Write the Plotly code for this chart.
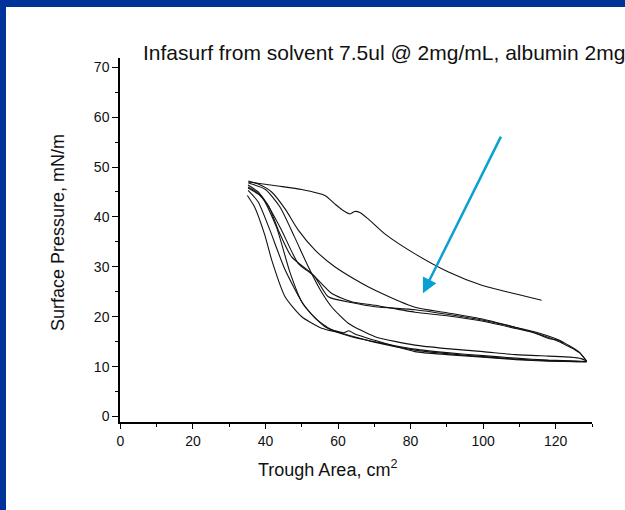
import plotly.graph_objects as go

# ---- data (trough area cm^2, surface pressure mN/m) ----
c1_x = [116.1, 108.8, 99.6, 90.3, 81.2, 72.9, 68.3, 66.0, 64.6, 63.3, 61.0, 59.1, 56.4, 50.0, 43.4, 35.2]
c1_y = [23.3, 24.6, 26.3, 29.0, 32.6, 36.6, 39.6, 40.9, 41.1, 40.6, 41.5, 42.6, 44.3, 45.5, 46.2, 47.0]

e1_x = [35.3, 40.0, 44.0, 48.0, 51.8, 55.0, 58.2, 62.8, 70.2, 81.2, 90.0, 100.0, 109.0, 118.0, 124.0, 127.0, 128.5]
e1_y = [46.8, 45.5, 42.0, 36.0, 30.0, 25.5, 22.0, 18.7, 16.0, 14.3, 13.6, 13.0, 12.4, 12.1, 11.9, 11.6, 11.1]

m1_x = [128.5, 126.5, 121.0, 114.6, 108.8, 100.0, 90.0, 81.2, 70.2, 66.5, 59.1, 53.6, 49.0, 45.5, 41.7, 38.0, 35.3]
m1_y = [11.1, 12.9, 15.3, 16.9, 17.9, 19.5, 20.8, 21.9, 25.3, 26.7, 30.0, 33.4, 37.4, 41.5, 45.0, 46.6, 47.2]

e2_x = [35.0, 37.0, 39.8, 41.7, 45.4, 50.0, 55.5, 61.0, 70.0, 81.2, 90.0, 100.0, 109.0, 118.0, 126.0, 128.5]
e2_y = [44.3, 42.0, 36.4, 31.4, 24.0, 20.0, 17.7, 16.7, 14.9, 13.3, 12.6, 12.0, 11.5, 11.2, 11.0, 11.0]

m2_x = [128.5, 126.5, 121.0, 115.0, 108.0, 100.0, 90.0, 81.2, 70.2, 63.7, 58.2, 52.7, 47.2, 43.5, 41.0, 38.0, 35.2]
m2_y = [11.1, 12.8, 15.0, 16.6, 17.8, 19.1, 20.2, 20.9, 22.3, 23.0, 24.7, 28.7, 32.0, 37.4, 42.0, 45.0, 46.4]

e3_x = [35.2, 38.0, 41.2, 45.4, 50.9, 56.4, 63.7, 70.2, 81.2, 90.0, 100.0, 109.0, 118.0, 126.0, 128.5]
e3_y = [45.3, 43.0, 37.4, 29.4, 22.0, 18.0, 16.0, 15.0, 13.5, 12.8, 12.2, 11.7, 11.3, 11.1, 11.0]

m3_x = [122.0, 121.2, 118.2, 114.0, 108.0, 100.0, 90.0, 81.2, 70.2, 64.0, 57.3, 53.6, 49.0, 44.4, 40.5, 37.5, 35.2]
m3_y = [14.6, 15.2, 15.6, 16.8, 18.0, 19.3, 20.5, 21.4, 22.0, 22.8, 24.0, 28.0, 30.7, 37.4, 42.5, 45.0, 46.0]

e4_x = [35.2, 39.0, 43.0, 46.7, 50.0, 54.0, 58.0, 61.5, 63.0, 64.5, 70.0, 81.2, 90.0, 100.0, 109.0, 118.0, 126.0, 128.5]
e4_y = [45.8, 44.0, 38.0, 29.0, 23.0, 19.5, 17.5, 16.8, 17.2, 16.6, 15.3, 13.0, 12.4, 11.9, 11.4, 11.1, 11.0, 11.0]

curves = [(c1_x, c1_y), (e1_x, e1_y), (m1_x, m1_y), (e2_x, e2_y),
          (m2_x, m2_y), (e3_x, e3_y), (m3_x, m3_y), (e4_x, e4_y)]

x_ticks = [0, 20, 40, 60, 80, 100, 120]
y_ticks = [0, 10, 20, 30, 40, 50, 60, 70]

arrow_tail = (105.1, 56.4)
arrow_tip = (83.4, 24.7)

title_text = "Infasurf from solvent 7.5ul @ 2mg/mL, albumin 2mg"
x_title = "Trough Area, cm<sup>2</sup>"
y_title = "Surface Pressure, mN/m"

# ---- figure ----
W, H = 625, 510
L, R, T, B = 120, 33, 58, 88
pw, ph = W - L - R, H - T - B

def px(xp):
    return (xp - L) / pw

def py(yp):
    return 1 - (yp - T) / ph

fig = go.Figure()
for cx, cy in curves:
    fig.add_trace(go.Scatter(x=cx, y=cy, mode="lines",
                             line=dict(color="#111111", width=1.1, shape="spline", smoothing=0.6),
                             showlegend=False, hoverinfo="skip"))

font = "Liberation Sans, Arial, sans-serif"
axis_common = dict(showgrid=False, zeroline=False, showline=True, linecolor="black",
                   linewidth=1.5, ticks="outside", tickcolor="black", tickwidth=1.3,
                   tickfont=dict(family=font, size=14, color="#111111"))

fig.update_layout(
    width=W, height=H,
    margin=dict(l=L, r=R, t=T, b=B, pad=0),
    paper_bgcolor="white", plot_bgcolor="white",
    xaxis=dict(range=[-0.1, 130.0], tickvals=x_ticks, ticklen=5,
               minor=dict(ticks="outside", dtick=10, ticklen=3, tickcolor="black", tickwidth=1.2),
               **axis_common),
    yaxis=dict(range=[-1.1, 71.85], tickvals=y_ticks, ticklen=6,
               minor=dict(ticks="outside", dtick=5, ticklen=3, tickcolor="black", tickwidth=1.2),
               **axis_common),
    shapes=[
        dict(type="rect", xref="paper", yref="paper", x0=px(0), x1=px(W), y0=py(0), y1=py(7),
             fillcolor="#003399", line=dict(width=0), layer="above"),
        dict(type="rect", xref="paper", yref="paper", x0=px(0), x1=px(6), y0=py(0), y1=py(H),
             fillcolor="#003399", line=dict(width=0), layer="above"),
    ],
    annotations=[
        dict(text=title_text, xref="paper", yref="paper", x=px(141), y=py(52),
             xanchor="left", yanchor="middle", showarrow=False,
             font=dict(family=font, size=21, color="#111111")),
        dict(text=x_title, xref="paper", yref="paper", x=px(327), y=py(468),
             xanchor="center", yanchor="middle", showarrow=False,
             font=dict(family=font, size=18, color="#111111")),
        dict(text=y_title, xref="paper", yref="paper", x=px(58), y=py(232),
             xanchor="center", yanchor="middle", showarrow=False, textangle=-90,
             font=dict(family=font, size=18, color="#111111")),
        dict(text="", x=arrow_tip[0], y=arrow_tip[1], ax=arrow_tail[0], ay=arrow_tail[1],
             xref="x", yref="y", axref="x", ayref="y", showarrow=True,
             arrowhead=2, arrowsize=1.2, arrowwidth=2.5, arrowcolor="#0aa0d2"),
    ],
)

fig.write_html("out.html")
